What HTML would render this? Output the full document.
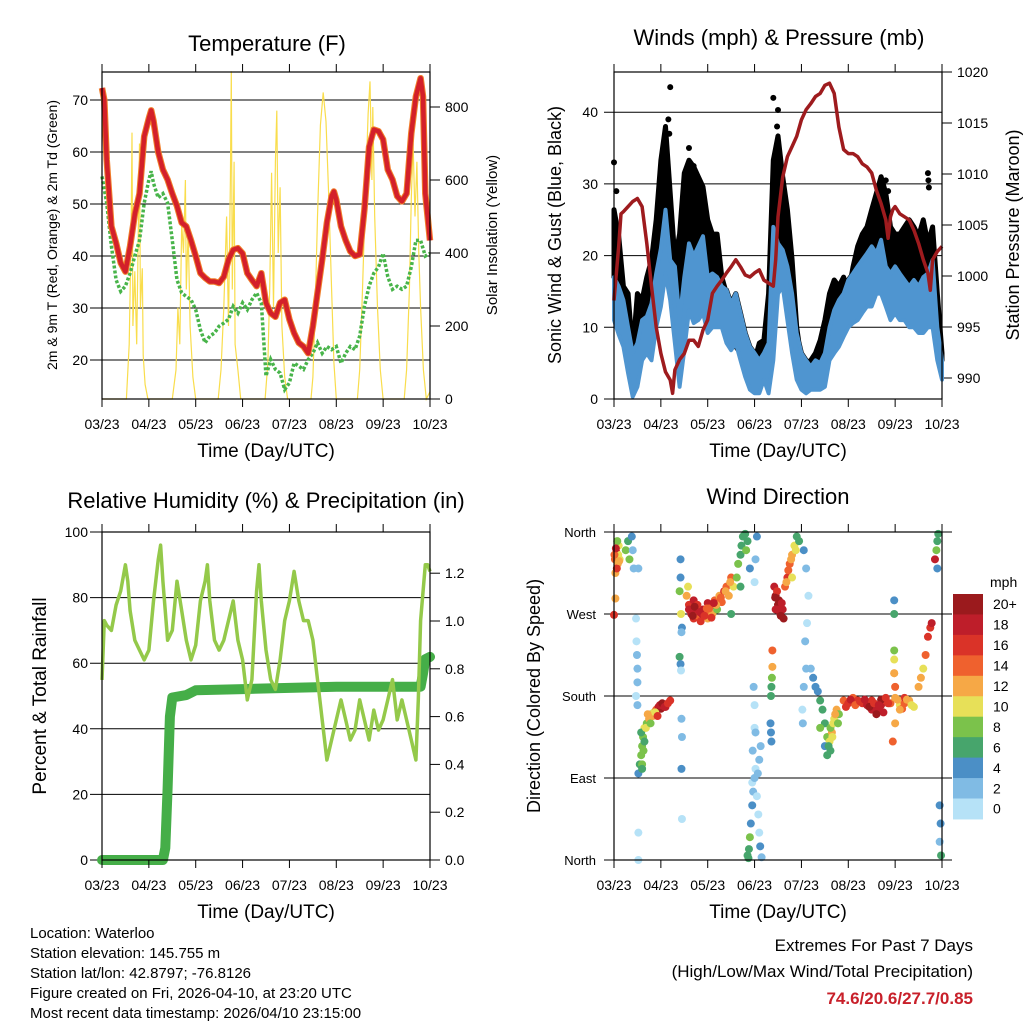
<!DOCTYPE html>
<html><head><meta charset="utf-8"><style>
html,body{margin:0;padding:0;background:#fff}
svg{display:block;font-family:"Liberation Sans",Arial,sans-serif}
</style></head><body>
<svg id="s" width="1024" height="1024" viewBox="0 0 1024 1024" xmlns="http://www.w3.org/2000/svg">
<rect width="1024" height="1024" fill="#fff"/>
<g id="p1"></g>
<g id="p2"></g>
<g id="p3"></g>
<g id="p4"></g>
<g font-size="15" fill="#000">
<text x="30" y="938">Location: Waterloo</text>
<text x="30" y="958">Station elevation: 145.755 m</text>
<text x="30" y="978">Station lat/lon: 42.8797; -76.8126</text>
<text x="30" y="998">Figure created on Fri, 2026-04-10, at 23:20 UTC</text>
<text x="30" y="1018">Most recent data timestamp: 2026/04/10 23:15:00</text>
</g>
<g text-anchor="end">
<text x="973" y="951" font-size="17">Extremes For Past 7 Days</text>
<text x="973" y="977" font-size="17">(High/Low/Max Wind/Total Precipitation)</text>
<text x="973" y="1004" font-size="17" font-weight="bold" fill="#c8202a">74.6/20.6/27.7/0.85</text>
</g>
</svg>
<script>
// ---------- DATA ----------
const dayTicks = ["03/23","04/23","05/23","06/23","07/23","08/23","09/23","10/23"];
const tempDays = [0,0.05,0.1,0.2,0.3,0.4,0.5,0.6,0.7,0.8,0.9,1.0,1.05,1.1,1.2,1.3,1.4,1.5,1.6,1.7,1.8,1.9,2.0,2.1,2.2,2.3,2.4,2.5,2.6,2.7,2.8,2.9,3.0,3.1,3.2,3.3,3.4,3.5,3.6,3.7,3.8,3.9,4.0,4.1,4.2,4.3,4.4,4.5,4.6,4.7,4.8,4.9,4.95,5.0,5.1,5.2,5.3,5.4,5.5,5.6,5.7,5.8,5.9,6.0,6.1,6.2,6.3,6.4,6.5,6.6,6.7,6.8,6.85,6.9,7.0];
const tempRed = [72.3,70,58.5,45.7,42.5,38.7,37,41.9,48,52,63,66.5,68,66,60,56.6,54.7,52,49.6,46.4,45.7,43,40,36.7,35.8,35.1,35.1,34.8,36,39.3,41.2,41.5,40.5,36.7,35.4,34.2,36.7,31,29,28.3,31,31.6,27.8,25.2,23.3,22.6,21.3,26.5,32.9,39.3,46.4,51.5,52.4,50.8,45.7,43,40.9,40,40.3,48.9,61,64.3,64,62.4,56.6,54.7,51.5,50.5,52,63.6,70.7,74.2,70.7,52,43];
const dewDays = [0,0.1,0.2,0.3,0.4,0.5,0.6,0.7,0.8,0.9,1.0,1.05,1.1,1.2,1.3,1.4,1.5,1.6,1.7,1.8,1.9,2.0,2.1,2.2,2.3,2.4,2.5,2.6,2.7,2.8,2.9,3.0,3.1,3.2,3.3,3.4,3.5,3.6,3.7,3.8,3.9,4.0,4.1,4.2,4.3,4.4,4.5,4.6,4.7,4.8,4.9,5.0,5.1,5.2,5.3,5.4,5.5,5.6,5.7,5.8,5.9,6.0,6.1,6.2,6.3,6.4,6.5,6.6,6.7,6.8,6.9,7.0];
const dewGreen = [55.3,50.2,41.9,35.4,33.2,34.2,36.7,40,43,50.2,54.7,56.3,54,51.2,52,50.2,43,35.4,32.9,32.2,31.6,29.7,25.8,23.3,24.6,25.2,26.5,27.1,27.8,30.3,29,31,29.7,31.6,32.9,31,16.9,20.1,18.2,17.5,14.3,15.6,19.4,18.8,18.2,20.1,21.3,23.3,21.3,22.6,22,22.6,19.4,21.3,22.6,22,24.6,30.3,34.2,36.7,37.9,40.5,36,33.6,34.2,33.6,34.2,37.9,43,43,40,40.5];
const solarDays = [0,0.52,0.58,0.62,0.64,0.66,0.7,0.74,0.78,0.8,0.82,0.86,0.88,0.92,0.98,1.5,1.58,1.62,1.66,1.7,1.74,1.78,1.8,1.84,1.88,1.94,2.0,2.48,2.54,2.6,2.66,2.7,2.74,2.76,2.78,2.82,2.84,2.9,2.96,3.48,3.54,3.58,3.62,3.66,3.7,3.73,3.76,3.8,3.84,3.9,3.96,4.46,4.5,4.55,4.6,4.66,4.72,4.78,4.84,4.9,4.95,5.0,5.45,5.5,5.56,5.62,5.68,5.72,5.76,5.78,5.82,5.88,5.94,6.0,6.45,6.5,6.56,6.6,6.64,6.68,6.72,6.76,6.8,6.86,6.92,7.0];
const solarVals = [0,0,150,450,730,200,350,150,500,700,250,358,120,40,0,0,80,250,150,480,400,600,300,460,200,60,0,0,80,250,500,200,600,898,300,650,150,80,0,0,100,300,620,250,650,790,400,580,200,60,0,0,60,250,500,750,840,760,550,300,100,0,0,80,300,550,780,870,600,800,500,250,80,0,0,80,300,550,700,500,650,400,250,80,0,20];
const tempTicks = [20,30,40,50,60,70];
const solarTicks = [0,200,400,600,800];

const windDays = [0,0.1,0.2,0.3,0.4,0.5,0.6,0.7,0.8,0.9,1.0,1.1,1.2,1.3,1.4,1.5,1.6,1.7,1.8,1.9,2.0,2.1,2.2,2.3,2.4,2.5,2.6,2.7,2.8,2.9,3.0,3.1,3.2,3.3,3.4,3.5,3.6,3.7,3.8,3.9,4.0,4.1,4.2,4.3,4.4,4.5,4.6,4.7,4.8,4.9,5.0,5.1,5.2,5.3,5.4,5.5,5.6,5.7,5.8,5.9,6.0,6.1,6.2,6.3,6.4,6.5,6.6,6.7,6.8,6.9,7.0];
const windLo = [11,9,7.3,3.6,0.3,1.7,5.4,6.4,5.4,10,12.9,17.5,13.8,7.8,1.7,6.8,12.4,10.6,11,12,9.2,10,10,10,7.8,6.8,7.8,5.4,3.1,1.3,0.8,0.8,2.7,0.8,5.4,14.7,15.7,11,6.4,2.7,1.3,0.8,1.3,1.3,1.3,1.7,5.4,6.4,7.3,8.7,10,10.6,11,12,12.9,12.9,14.7,14.7,12.9,11,12,11,11,10,10,9.2,9.2,10,10,5.4,2.7];
const windHi = [17,15.7,13.8,10,6.4,7.8,11,11.5,13.3,17.5,21,26.4,19.4,18.5,11,17,21.7,19.9,21.3,22.7,17,17.5,17,15.7,15.2,13.3,14.7,12,9.2,7.3,6.4,5.4,6.4,7.8,24,21.7,20.8,18.5,14.7,9.2,6.4,5.4,4.5,5.4,5,6.4,10,12.4,13.8,14.7,16.6,17.5,18.5,19.4,20.3,21.3,20.3,22.2,18.5,17.5,18.5,17.5,16.6,15.7,16.6,15.7,17,17.5,19.4,10,5.4];
const gustHi = [26.4,22.7,15.7,14.7,6.4,14.7,13.8,17,19.4,25,33.3,38,28.7,19.4,23,31.5,33.3,32.4,31,29.6,25,23,23,17,14.7,12.4,7.3,6.4,5.4,6.4,5.4,7.8,8.2,14.7,33.3,36.7,31,26.4,19.4,10,5.4,5,5.4,6.4,8.2,11,14.7,16.6,15.7,17,14.7,18.4,21.3,23,24,26.4,28.7,31,28.7,24,23,23,24,25,24,22.7,25,21.7,24,14.7,6.4];
const gustSpikeDays = [0,0.05,1.2,1.16,1.18,1.6,1.7,3.4,3.5,3.48,5.8,5.85,6.7,6.71,6.72];
const gustSpikeVals = [33,29,43.5,39,37,35,32.5,42,40.3,38,30.5,29,31.5,30.5,29.5];
const pressDays = [0,0.1,0.15,0.2,0.3,0.4,0.5,0.6,0.7,0.8,0.9,1.0,1.1,1.2,1.25,1.3,1.4,1.5,1.6,1.7,1.8,1.9,2.0,2.1,2.2,2.3,2.4,2.5,2.6,2.7,2.8,2.9,3.0,3.1,3.2,3.3,3.4,3.45,3.5,3.6,3.7,3.8,3.9,4.0,4.1,4.2,4.3,4.4,4.5,4.6,4.7,4.8,4.9,5.0,5.1,5.2,5.3,5.4,5.5,5.6,5.7,5.8,5.85,5.9,5.95,6.0,6.1,6.2,6.3,6.4,6.5,6.6,6.7,6.75,6.8,6.9,7.0];
const pressVals = [997.6,1002.9,1006.1,1006.3,1006.8,1007.3,1007.6,1006.8,1003.2,999,995,992.4,990.6,989.8,988.5,990.8,991.8,992.4,993.7,993.7,993.1,994.7,995.7,998.3,999,999.6,1000.3,1000.9,1001.6,1000.9,1000.1,999.9,1000.3,1000.6,999.6,999.3,999,1001.6,1005.8,1009.7,1011.7,1012.7,1013.7,1015.3,1016.3,1016.9,1017.6,1017.9,1018.7,1018.9,1017.9,1014.6,1012.4,1012,1012,1011.7,1011,1010.7,1010.1,1008.4,1007.1,1005.5,1003.7,1005.8,1006.5,1006.8,1006.1,1005.8,1005.5,1004.5,1003.2,1001.6,1000.3,998.6,1001.6,1002.4,1002.9];
const windTicks = [0,10,20,30,40];
const pressTicks = [990,995,1000,1005,1010,1015,1020];

const rhDays = [0,0.05,0.1,0.2,0.3,0.4,0.5,0.55,0.6,0.7,0.8,0.9,1.0,1.1,1.2,1.25,1.3,1.4,1.5,1.6,1.7,1.8,1.9,2.0,2.1,2.2,2.25,2.3,2.4,2.5,2.6,2.7,2.8,2.9,3.0,3.1,3.2,3.3,3.35,3.4,3.5,3.6,3.7,3.8,3.9,4.0,4.1,4.2,4.3,4.4,4.5,4.6,4.7,4.8,4.9,5.0,5.1,5.2,5.3,5.4,5.5,5.6,5.7,5.8,5.9,6.0,6.1,6.2,6.3,6.4,6.5,6.6,6.7,6.75,6.8,6.9,6.95,7.0];
const rhVals = [54.9,73,71.6,70,77.7,82,90,85,76,67,64,61,64,79,91.5,96,85,67,70,85,76,67,61,65.5,79,85,90,79,67,64,67,73,79,67,61,48.8,55,82,90,79,64,55,52,61,73,79,88,79,73,73,67,55,42.7,30.5,36.6,42.7,48.8,42.7,36.6,39.6,48.8,42.7,36.6,45.7,39.6,42.7,48.8,55,42.7,48.8,42.7,36.6,30.5,48.8,73,90,90,88];
const rainDays = [0,1.3,1.35,1.4,1.45,1.5,1.8,2.0,3.0,4.0,5.0,6.8,6.85,6.9,7.0];
const rainVals = [0,0,0.05,0.3,0.6,0.68,0.69,0.71,0.715,0.72,0.725,0.725,0.78,0.84,0.85];
const rhTicks = [0,20,40,60,80,100];
const rainTicks = ["0.0","0.2","0.4","0.6","0.8","1.0","1.2"];

const dirDays = [0.02,0.05,0.08,0.1,0.03,0.12,0,0.03,0.25,0.3,0.33,0.38,0.42,0.4,0.47,0.48,0.49,0.5,0.5,0.47,0.5,0.52,0.52,0.52,
0.52,0.55,0.58,0.6,0.62,0.65,0.7,0.75,0.8,0.85,0.9,0.95,1.0,1.05,1.1,1.2,0.58,0.65,0.72,0.6,
1.42,1.42,1.4,1.43,1.45,1.44,1.4,1.42,1.43,1.44,1.45,1.44,1.45,
1.55,1.6,1.65,1.7,1.75,1.8,1.85,1.9,1.95,2.0,2.05,2.1,2.15,2.2,2.25,2.3,2.35,2.4,2.45,2.5,2.55,2.5,1.58,1.7,2.0,
2.62,2.65,2.7,2.72,2.75,2.8,2.85,2.82,2.7,2.9,
3.05,3.02,3.0,2.98,3.0,2.95,
2.85,2.88,2.9,2.92,2.95,2.97,3.0,3.02,3.05,3.08,3.1,3.12,3.15,2.87,3.07,3.1,3.13,2.96,3.0,3.02,
3.38,3.38,3.37,3.36,3.35,3.34,3.35,3.36,
3.42,3.45,3.5,3.55,3.6,3.62,3.48,3.52,3.45,
3.65,3.7,3.75,3.8,3.85,3.9,3.95,3.8,
4.05,4.1,4.15,4.12,4.08,4.1,4.05,4.02,4.03,
4.2,4.25,4.3,4.35,4.4,4.45,4.5,4.55,4.6,4.65,4.7,4.75,4.8,4.5,4.55,4.4,
4.9,5.0,5.1,5.2,5.3,5.4,5.5,5.6,5.7,5.8,5.9,6.0,6.1,6.2,6.3,6.4,5.5,5.75,6.0,5.95,5.98,6.0,6.2,
5.98,5.98,5.98,5.98,5.98,
6.5,6.55,6.6,6.65,6.7,6.75,6.78,
6.85,6.88,6.9,6.92,6.9,6.95,6.97,6.95,6.98,
0.06,0.09,0.01,0.07,0.11,0.04,0.6,0.63,0.68,0.78,0.83,0.88,0.93,0.98,1.03,1.08,1.15,
1.6,1.68,1.78,1.88,1.98,2.08,2.18,2.28,2.38,2.48,1.72,1.83,1.93,2.03,2.13,
3.44,3.5,3.56,3.58,3.68,3.72,3.78,3.88,
4.58,4.62,4.68,4.72,4.78,4.62,4.66,
4.95,5.05,5.15,5.25,5.35,5.45,5.55,5.65,5.7,5.85,6.05,6.15,6.25,6.35,5.6,5.65,5.8,6.1];
const dirDeg = [330,338,325,345,315,330,269,287,340,350,330,355,320,340,265,240,225,210,195,180,170,30,0,320,
95,105,115,125,135,145,150,155,160,162,165,168,166,170,168,175,140,130,160,105,
330,310,295,270,255,250,223,215,208,155,135,100,45,
290,280,270,265,272,268,262,275,270,265,278,270,285,275,290,283,295,300,290,310,300,270,300,285,282,
310,325,335,345,355,358,350,340,300,320,
355,330,305,190,145,85,
5,12,25,40,60,75,90,100,70,50,30,15,3,2,95,110,125,120,170,140,
230,212,200,190,180,150,140,130,
300,290,280,270,275,265,295,285,275,
300,310,325,335,345,355,350,310,
340,320,290,260,240,210,190,165,150,
210,200,190,185,175,165,150,135,130,140,155,165,160,125,115,145,
175,172,178,175,172,170,175,168,170,175,172,178,170,172,175,168,165,162,150,130,205,190,178,
285,270,230,220,205,
190,200,210,225,245,255,260,
330,340,350,358,320,60,40,20,5,
320,335,335,350,328,342,100,120,145,150,158,162,158,170,172,168,172,
275,268,280,270,276,266,280,288,295,305,278,272,268,276,282,
288,275,268,282,305,318,330,340,
125,145,150,160,150,120,135,
168,176,170,174,176,168,172,166,176,172,176,166,176,170,160,170,178,165];
const dirSpeed = [14,16,12,10,12,10,16,12,8,6,8,4,2,3,1,1,2,2,3,1,3,0,0,3,
4,6,8,8,8,10,8,12,6,10,14,18,20,18,18,16,6,6,12,8,
4,4,8,10,4,3,7,4,1,2,2,4,1,
12,16,18,16,18,14,16,18,14,12,16,12,14,8,12,14,16,14,12,14,10,6,10,18,18,
8,8,6,7,6,7,6,8,6,4,
4,3,1,2,0,1,
6,6,8,4,4,2,3,1,0,1,1,4,3,6,2,2,2,3,1,3,
14,13,8,7,6,4,4,4,
18,20,20,20,18,20,16,20,18,
14,16,14,12,10,6,6,10,
4,2,1,1,2,3,3,1,2,
3,4,4,5,6,6,7,8,10,12,10,12,8,4,6,8,
14,16,14,16,16,18,16,20,18,16,14,12,10,14,12,10,18,18,12,14,12,14,16,
4,6,8,10,12,
12,12,10,14,16,16,18,
18,8,6,6,4,4,4,2,6,
16,10,14,8,12,18,6,8,10,8,12,10,16,18,20,18,16,
18,20,16,18,14,16,12,14,12,12,20,18,16,14,18,
20,18,20,18,12,14,12,10,
6,8,10,12,8,6,10,
16,18,14,16,18,20,16,18,20,16,12,14,12,10,20,18,16,12];
const dirLabels = ["North","East","South","West","North"];
const cbarLabels = ["20+","18","16","14","12","10","8","6","4","2","0"];
const cbarColors = ["#9b1a1d","#be1e2a","#da3328","#ef612e","#f6a846","#e7e058","#7bc24b","#47a56c","#4b8fc6","#80bbe4","#b6e2f7"];

// ---------- HELPERS ----------
const NS="http://www.w3.org/2000/svg";
function mk(parent,tag,attrs){const e=document.createElementNS(NS,tag);for(const k in attrs)e.setAttribute(k,attrs[k]);parent.appendChild(e);return e;}
function txt(parent,x,y,s,size,anchor,extra){const t=mk(parent,"text",Object.assign({x:x,y:y,"font-size":size,"text-anchor":anchor||"middle"},extra||{}));t.textContent=s;return t;}
const X0=[102,614], X1=[430,942];
function xs(col,d){return X0[col]+d*(X1[col]-X0[col])/7;}
function pathFrom(xsArr,ysArr){let d="";for(let i=0;i<xsArr.length;i++)d+=(i?"L":"M")+xsArr[i].toFixed(1)+","+ysArr[i].toFixed(1);return d;}
function xAxis(g,col,yb){
  for(let i=0;i<dayTicks.length;i++){const x=xs(col,i);
    mk(g,"line",{x1:x,x2:x,y1:yb,y2:yb+8,stroke:"#000","stroke-width":1});
    mk(g,"line",{x1:x,x2:x,y1:(yb===399?72:532)-8,y2:(yb===399?72:532),stroke:"#000","stroke-width":1});
    const t=txt(g,x,yb+30,dayTicks[i],14);
    
    
  }
  const tt=txt(g,(X0[col]+X1[col])/2,yb+58,"Time (Day/UTC)",19);
  
  
}
function frame(g,col,yt,yb){const r=mk(g,"rect",{x:X0[col],y:yt,width:X1[col]-X0[col],height:yb-yt,fill:"none",stroke:"#000","stroke-width":1.2});
  
  }

// ---------- PANEL 1: Temperature ----------
(function(){
const g=document.getElementById("p1");
const yT=v=>100+(70-v)*5.2, yS=v=>399-v*73/200;
tempTicks.forEach(v=>{mk(g,"line",{x1:90,x2:430,y1:yT(v),y2:yT(v),stroke:"#000","stroke-width":1});
  const t=txt(g,88,yT(v)+5,String(v),14,"end");});
solarTicks.forEach(v=>{mk(g,"line",{x1:430,x2:440,y1:yS(v),y2:yS(v),stroke:"#000","stroke-width":1});
  const t=txt(g,445,yS(v)+5,String(v),14,"start");});
const sol=mk(g,"path",{d:pathFrom(solarDays.map(d=>xs(0,d)),solarVals.map(yS)),fill:"none",stroke:"#f9dd4c","stroke-width":1.2});

const dew=mk(g,"path",{d:pathFrom(dewDays.map(d=>xs(0,d)),dewGreen.map(yT)),fill:"none",stroke:"#48b44a","stroke-width":3.5,"stroke-dasharray":"3 2"});

const t9=mk(g,"path",{d:pathFrom(tempDays.map(d=>xs(0,d)),tempRed.map(yT)),fill:"none",stroke:"#f07e2a","stroke-width":6.5,"stroke-linejoin":"round"});

const t2=mk(g,"path",{d:pathFrom(tempDays.map(d=>xs(0,d)),tempRed.map(yT)),fill:"none",stroke:"#d3202a","stroke-width":4.5,"stroke-linejoin":"round"});

frame(g,0,72,399);xAxis(g,0,399);
const ti=txt(g,267,51,"Temperature (F)",22);
const yl=txt(g,0,0,"2m & 9m T (Red, Orange) & 2m Td (Green)",14,"middle",{transform:"translate(57,235) rotate(-90)"});
const yr=txt(g,0,0,"Solar Insolation (Yellow)",15,"middle",{transform:"translate(497,235) rotate(-90)"});
})();

// ---------- PANEL 2: Winds ----------
(function(){
const g=document.getElementById("p2");
const yW=v=>399-v*7.17, yP=v=>72+(1020-v)*10.2;
windTicks.forEach(v=>{mk(g,"line",{x1:604,x2:942,y1:yW(v),y2:yW(v),stroke:"#000","stroke-width":1});
  const t=txt(g,598,yW(v)+5,String(v),14,"end");});
pressTicks.forEach(v=>{mk(g,"line",{x1:942,x2:952,y1:yP(v),y2:yP(v),stroke:"#000","stroke-width":1});
  const t=txt(g,957,yP(v)+5,String(v),14,"start");});
const xsW=windDays.map(d=>xs(1,d));
let gd=pathFrom(xsW,gustHi.map(yW));for(let i=windDays.length-1;i>=0;i--)gd+="L"+xsW[i].toFixed(1)+","+yW(windHi[i]).toFixed(1);gd+="Z";
const gb=mk(g,"path",{d:gd,fill:"#000",stroke:"#000","stroke-width":5,"stroke-linejoin":"round"});

for(let i=0;i<gustSpikeDays.length;i++){const c=mk(g,"circle",{cx:xs(1,gustSpikeDays[i]),cy:yW(gustSpikeVals[i]),r:3,fill:"#000"});
  }
let wd=pathFrom(xsW,windHi.map(yW));for(let i=windDays.length-1;i>=0;i--)wd+="L"+xsW[i].toFixed(1)+","+yW(windLo[i]).toFixed(1);wd+="Z";
const wb=mk(g,"path",{d:wd,fill:"#4f95d0",stroke:"#4f95d0","stroke-width":4,"stroke-linejoin":"round"});

const pl=mk(g,"path",{d:pathFrom(pressDays.map(d=>xs(1,d)),pressVals.map(yP)),fill:"none",stroke:"#9e1b1e","stroke-width":3.5,"stroke-linejoin":"round"});

frame(g,1,72,399);xAxis(g,1,399);
const ti=txt(g,779,45,"Winds (mph) & Pressure (mb)",22);
const yl=txt(g,0,0,"Sonic Wind & Gust (Blue, Black)",18,"middle",{transform:"translate(561,235) rotate(-90)"});
const yr=txt(g,0,0,"Station Pressure (Maroon)",18,"middle",{transform:"translate(1019,235) rotate(-90)"});
})();

// ---------- PANEL 3: RH & Rain ----------
(function(){
const g=document.getElementById("p3");
const yH=v=>860-v*3.28, yR=v=>860-v*239;
rhTicks.forEach(v=>{mk(g,"line",{x1:90,x2:430,y1:yH(v),y2:yH(v),stroke:"#000","stroke-width":1});
  const t=txt(g,88,yH(v)+5,String(v),14,"end");});
rainTicks.forEach(s=>{const v=parseFloat(s);mk(g,"line",{x1:430,x2:440,y1:yR(v),y2:yR(v),stroke:"#000","stroke-width":1});
  const t=txt(g,445,yR(v)+5,s,14,"start");});
const rl=mk(g,"path",{d:pathFrom(rainDays.map(d=>xs(0,d)),rainVals.map(yR)),fill:"none",stroke:"#45ae48","stroke-width":10,"stroke-linejoin":"round","stroke-linecap":"round"});

const hl=mk(g,"path",{d:pathFrom(rhDays.map(d=>xs(0,d)),rhVals.map(yH)),fill:"none",stroke:"#94c94a","stroke-width":3.5,"stroke-linejoin":"round"});

frame(g,0,532,860);xAxis(g,0,860);
const ti=txt(g,266,508,"Relative Humidity (%) & Precipitation (in)",22);
const yl=txt(g,0,0,"Percent & Total Rainfall",19,"middle",{transform:"translate(46,696) rotate(-90)"});
})();

// ---------- PANEL 4: Wind direction ----------
(function(){
const g=document.getElementById("p4");
const yD=v=>860-v*328/360;
dirLabels.forEach((s,i)=>{const y=yD(i*90);mk(g,"line",{x1:604,x2:952,y1:y,y2:y,stroke:"#000","stroke-width":1});
  const t=txt(g,596,y+5,s,13,"end");});
function col(sp){let i=10-Math.min(10,Math.floor(sp/2));return cbarColors[i];}
for(let i=0;i<dirDays.length;i++){const c=mk(g,"circle",{cx:xs(1,dirDays[i]),cy:yD(dirDeg[i]),r:4,fill:col(dirSpeed[i])});
  }
frame(g,1,532,860);xAxis(g,1,860);
const ti=txt(g,778,504,"Wind Direction",22);
const yl=txt(g,0,0,"Direction (Colored By Speed)",18,"middle",{transform:"translate(540,696) rotate(-90)"});
const cb=mk(g,"g",{});
const h=20.45;
cbarColors.forEach((c,i)=>{const r=mk(cb,"rect",{x:953,y:594+i*h,width:30,height:h+0.5,fill:c});
  const t=txt(cb,993,594+i*h+h/2+5,cbarLabels[i],14,"start");});
const u=txt(cb,990,587,"mph",14,"start");
})();
</script>
</body></html>
